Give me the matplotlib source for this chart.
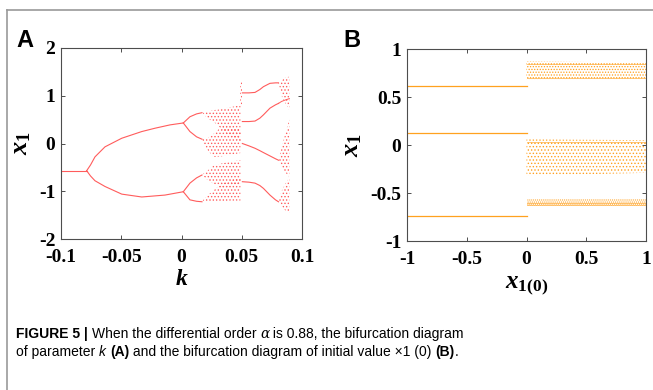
import matplotlib
matplotlib.use('Agg')
import matplotlib.pyplot as plt
from matplotlib.lines import Line2D

plt.rcParams['mathtext.fontset'] = 'custom'
plt.rcParams['mathtext.rm'] = 'Liberation Serif:bold'
plt.rcParams['mathtext.it'] = 'Liberation Serif:italic:bold'
plt.rcParams['mathtext.bf'] = 'Liberation Serif:bold'
plt.rcParams['axes.unicode_minus'] = False
plt.rcParams['hatch.linewidth'] = 0.6

# ---- panel A: bifurcation vs k (branches) ----
p1_k = [-0.1, -0.0787]
p1_x = [-0.57, -0.57]

p2_up_k = [-0.0787, -0.0755, -0.0718, -0.0635, -0.0496, -0.033, -0.022, -0.0095, 0.0015]
p2_up_x = [-0.57, -0.45, -0.28, -0.07, 0.11, 0.25, 0.32, 0.39, 0.43]
p2_lo_k = [-0.0787, -0.0755, -0.0718, -0.0635, -0.0496, -0.033, -0.0137, 0.0015]
p2_lo_x = [-0.57, -0.68, -0.78, -0.90, -1.06, -1.12, -1.08, -1.01]

p4_k = [0.0015, 0.007, 0.0125, 0.0170]
p4_a = [0.43, 0.56, 0.62, 0.645]
p4_b = [0.43, 0.25, 0.14, 0.09]
p4_c = [-1.01, -0.83, -0.72, -0.66]
p4_d = [-1.01, -1.18, -1.21, -1.22]

# period-4 window after the jump at k = 0.05
w_k = [0.0505, 0.0560, 0.0610, 0.0650, 0.0680, 0.0734, 0.0780, 0.0805]
w_1 = [1.06, 1.06, 1.07, 1.13, 1.19, 1.26, 1.27, 1.27]
w_2 = [0.46, 0.46, 0.47, 0.53, 0.60, 0.74, 0.81, 0.84]
w_3 = [0.00, -0.05, -0.10, -0.15, -0.19, -0.26, -0.32, -0.35]
w_4 = [-0.80, -0.81, -0.83, -0.88, -0.94, -1.08, -1.18, -1.22]
w_2b_k = [0.0805, 0.083, 0.086, 0.0895]
w_2b = [0.84, 0.88, 0.91, 0.94]

# chaotic bands: k, lower edge, upper edge
chaos_a = [
    ([0.018, 0.022, 0.027, 0.033, 0.040, 0.049], [0.62, 0.52, 0.45, 0.30, 0.15, 0.05], [0.645, 0.67, 0.70, 0.72, 0.76, 0.80]),
    ([0.0167, 0.021, 0.0265, 0.033, 0.040, 0.049], [0.09, -0.12, -0.28, -0.27, -0.24, -0.20], [0.09, 0.10, 0.20, 0.35, 0.35, 0.30]),
    ([0.0167, 0.021, 0.027, 0.033, 0.040, 0.049], [-0.66, -0.75, -0.85, -0.92, -0.90, -0.85], [-0.66, -0.58, -0.45, -0.42, -0.38, -0.35]),
    ([0.0167, 0.021, 0.027, 0.033, 0.040, 0.049], [-1.22, -1.22, -1.21, -1.21, -1.20, -1.20], [-1.22, -1.10, -0.97, -0.85, -0.78, -0.72]),
    ([0.0487, 0.0503], [0.80, 0.80], [1.30, 1.30]),
    ([0.0805, 0.083, 0.086, 0.0895], [1.27, 1.00, 0.85, 0.70], [1.27, 1.32, 1.38, 1.40]),
    ([0.0805, 0.083, 0.086, 0.0895], [-0.35, -0.50, -0.60, -0.70], [-0.35, -0.10, 0.20, 0.50]),
    ([0.0805, 0.083, 0.086, 0.0895], [-1.22, -1.30, -1.40, -1.45], [-1.22, -1.00, -0.85, -0.70]),
]

# ---- panel B: bifurcation vs initial value x1(0) ----
b_left_x = [-1, 0]
b_left_levels = [0.615, 0.13, -0.736]
b_right_x = [0, 1]
b_bands = [
    ([0.68, 0.69], [0.87, 0.86], '......'),
    ([-0.32, -0.29], [0.06, 0.05], '.....'),
    ([-0.64, -0.64], [-0.56, -0.56], '........'),
]
b_dense = [0.70, 0.84, 0.03, -0.60, -0.62]

red = '#ff5c5c'
orange = '#ffa11f'

fig = plt.figure(figsize=(6.53, 3.90), dpi=100)

def style_axes(ax):
    for s in ax.spines.values():
        s.set_color('#4d4d4d')
        s.set_linewidth(0.8)
    ax.tick_params(direction='in', length=3, width=0.7, top=True, right=True,
                   colors='#4d4d4d', labelcolor='black')
    ax.tick_params(axis='x', pad=7)
    ax.tick_params(axis='y', pad=4)
    for lab in ax.get_xticklabels() + ax.get_yticklabels():
        lab.set_fontfamily('Liberation Serif')
        lab.set_fontweight('bold')
        lab.set_fontsize(14)

axA = fig.add_axes([61/653, 1 - 239/390, 241/653, 191/390])
axA.plot(p1_k, p1_x, color=red, lw=0.8)
axA.plot(p2_up_k, p2_up_x, color=red, lw=0.8)
axA.plot(p2_lo_k, p2_lo_x, color=red, lw=0.8)
for br in (p4_a, p4_b, p4_c, p4_d):
    axA.plot(p4_k, br, color=red, lw=0.8)
for br in (w_1, w_2, w_3, w_4):
    axA.plot(w_k, br, color=red, lw=0.8)
axA.plot(w_2b_k, w_2b, color=red, lw=0.7)
for kk, lo, hi in chaos_a:
    axA.fill_between(kk, lo, hi, facecolor='none', edgecolor=red, hatch='.....', lw=0)
axA.set_xlim(-0.1, 0.1)
axA.set_ylim(-2, 2)
axA.set_xticks([-0.1, -0.05, 0, 0.05, 0.1])
axA.set_xticklabels(['-0.1', '-0.05', '0', '0.05', '0.1'])
axA.set_yticks([-2, -1, 0, 1, 2])
axA.set_yticklabels(['-2', '-1', '0', '1', '2'])
style_axes(axA)
axA.set_xlabel(r'$k$', fontsize=17, labelpad=0)
axA.set_ylabel(r'$x_1$', fontsize=19, labelpad=4)

axB = fig.add_axes([407/653, 1 - 241/390, 239/653, 192/390])
for lv in b_left_levels:
    axB.plot(b_left_x, [lv, lv], color=orange, lw=0.9)
for lo, hi, h in b_bands:
    axB.fill_between(b_right_x, lo, hi, facecolor='none', edgecolor=orange, hatch=h, lw=0)
for lv in b_dense:
    axB.plot(b_right_x, [lv, lv], color=orange, lw=0.6, alpha=0.7)
axB.set_xlim(-1, 1)
axB.set_ylim(-1, 1)
axB.set_xticks([-1, -0.5, 0, 0.5, 1])
axB.set_xticklabels(['-1', '-0.5', '0', '0.5', '1'])
axB.set_yticks([-1, -0.5, 0, 0.5, 1])
axB.set_yticklabels(['-1', '-0.5', '0', '0.5', '1'])
style_axes(axB)
axB.set_xlabel(r'$x_{\mathrm{1(0)}}$', fontsize=18, labelpad=4)
axB.set_ylabel(r'$x_1$', fontsize=19, labelpad=4)

fig.text(16/653, 1 - 47/390, 'A', fontsize=17, fontweight='bold', family='Liberation Sans')
fig.text(343/653, 1 - 47/390, 'B', fontsize=17, fontweight='bold', family='Liberation Sans')

# frame lines
fig.add_artist(Line2D([7/653, 7/653], [0, 1 - 10/390], color='#9a9a9a', lw=1.2))
fig.add_artist(Line2D([7/653, 1], [1 - 10/390, 1 - 10/390], color='#9a9a9a', lw=1.2))

# caption written in pieces (bold / italic runs)
fig.canvas.draw()
rend = fig.canvas.get_renderer()

def caption_line(y, pieces):
    x = 16 / 653
    for txt, kw in pieces:
        opts = {'fontsize': 10, 'family': 'Liberation Sans'}
        opts.update(kw)
        t = fig.text(x, y, txt, **opts)
        bb = t.get_window_extent(renderer=rend)
        x += bb.width / fig.bbox.width

caption_line(1 - 338/390, [('FIGURE 5 | ', {'fontweight': 'bold'}),
                           ('When the differential order ', {}),
                           ('α', {'style': 'italic', 'family': 'DejaVu Serif'}),
                           (' is 0.88, the bifurcation diagram', {})])
caption_line(1 - 356/390, [('of parameter ', {}),
                           ('k', {'style': 'italic'}),
                           (' ', {}),
                           ('(A)', {'fontweight': 'bold'}),
                           (' and the bifurcation diagram of initial value ×1 (0) ', {}),
                           ('(B)', {'fontweight': 'bold'}),
                           ('.', {})])

fig.savefig('out.png', dpi=100)
